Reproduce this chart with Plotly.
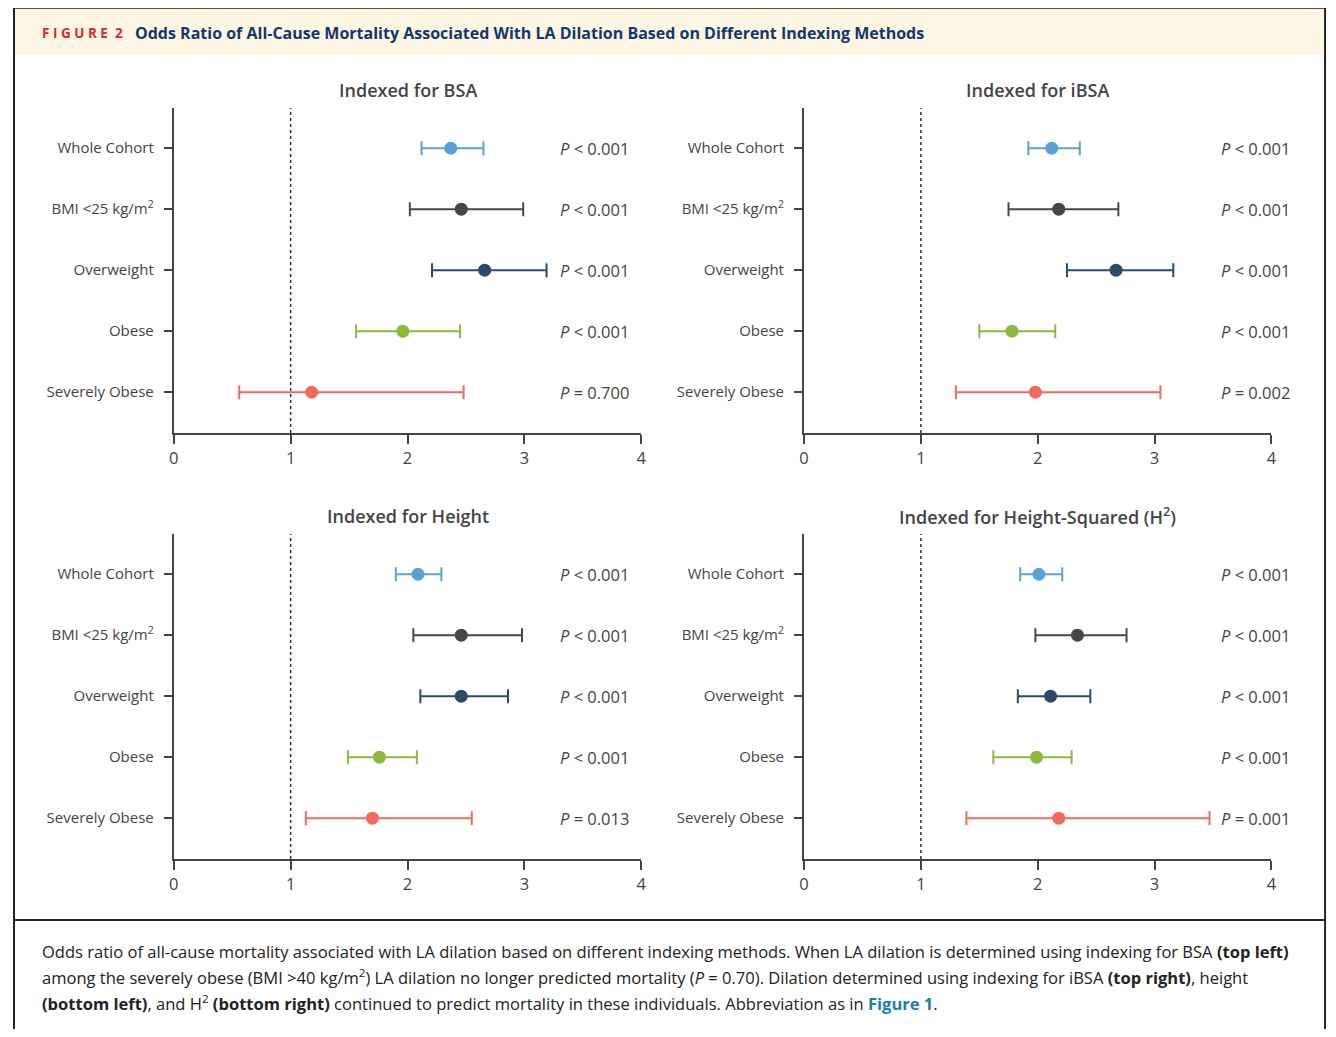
import plotly.graph_objects as go

# page is 1336x1037; browser body margin is 8px, so figure is drawn in the remaining area
PAGE_W, PAGE_H = 1336, 1037
OFF = 8
W, H = PAGE_W - OFF, PAGE_H - 2 * OFF

# ---------------- data ----------------
groups = ["Whole Cohort", "BMI &lt;25 kg/m<sup>2</sup>", "Overweight", "Obese", "Severely Obese"]
group_colors = ["#5BA1D5", "#474747", "#2D4A6A", "#8BBA3D", "#F06B59"]

panel_titles = ["Indexed for BSA", "Indexed for iBSA", "Indexed for Height",
                "Indexed for Height-Squared (H<sup>2</sup>)"]

# odds ratios, lower CI, upper CI per panel (order of groups)
bsa_or = [2.37, 2.46, 2.66, 1.96, 1.18]
bsa_lo = [2.12, 2.02, 2.21, 1.56, 0.56]
bsa_hi = [2.65, 2.99, 3.19, 2.45, 2.48]
bsa_p = ["<i>P</i> &lt; 0.001", "<i>P</i> &lt; 0.001", "<i>P</i> &lt; 0.001", "<i>P</i> &lt; 0.001", "<i>P</i> = 0.700"]

ibsa_or = [2.12, 2.18, 2.67, 1.78, 1.98]
ibsa_lo = [1.92, 1.75, 2.25, 1.50, 1.30]
ibsa_hi = [2.36, 2.69, 3.16, 2.15, 3.05]
ibsa_p = ["<i>P</i> &lt; 0.001", "<i>P</i> &lt; 0.001", "<i>P</i> &lt; 0.001", "<i>P</i> &lt; 0.001", "<i>P</i> = 0.002"]

height_or = [2.09, 2.46, 2.46, 1.76, 1.70]
height_lo = [1.90, 2.05, 2.11, 1.49, 1.13]
height_hi = [2.29, 2.98, 2.86, 2.08, 2.55]
height_p = ["<i>P</i> &lt; 0.001", "<i>P</i> &lt; 0.001", "<i>P</i> &lt; 0.001", "<i>P</i> &lt; 0.001", "<i>P</i> = 0.013"]

h2_or = [2.01, 2.34, 2.11, 1.99, 2.18]
h2_lo = [1.85, 1.98, 1.83, 1.62, 1.39]
h2_hi = [2.21, 2.76, 2.45, 2.29, 3.47]
h2_p = ["<i>P</i> &lt; 0.001", "<i>P</i> &lt; 0.001", "<i>P</i> &lt; 0.001", "<i>P</i> &lt; 0.001", "<i>P</i> = 0.001"]

x_ticks = [0, 1, 2, 3, 4]

panels = [
    (bsa_or, bsa_lo, bsa_hi, bsa_p),
    (ibsa_or, ibsa_lo, ibsa_hi, ibsa_p),
    (height_or, height_lo, height_hi, height_p),
    (h2_or, h2_lo, h2_hi, h2_p),
]

# ---------------- layout geometry (page pixels -> paper) ----------------
def px_x(p):
    return (p - OFF) / W

def px_y(p):
    return 1 - (p - OFF) / H

x_doms = [(170, 641), (805, 1276), (170, 641), (805, 1276)]
y_doms = [(108, 433), (108, 433), (534, 859), (534, 859)]
title_y = [90, 90, 516, 516]
p_x = [557, 1223, 557, 1223]

AX = "#444444"
FONT = "Open Sans"

fig = go.Figure()
layout = dict(
    width=W, height=H,
    margin=dict(l=0, r=0, t=0, b=0),
    paper_bgcolor="white", plot_bgcolor="white",
    showlegend=False,
    font=dict(family=FONT, color="#333333"),
)
annotations = []
shapes = []

n = len(groups)
yidx = list(range(n))

for k, (vals, lo, hi, pv) in enumerate(panels):
    xa = "x" if k == 0 else f"x{k+1}"
    ya = "y" if k == 0 else f"y{k+1}"
    xkey = "xaxis" if k == 0 else f"xaxis{k+1}"
    ykey = "yaxis" if k == 0 else f"yaxis{k+1}"
    for i in range(n):
        fig.add_trace(go.Scatter(
            x=[vals[i]], y=[yidx[i]], xaxis=xa, yaxis=ya,
            mode="markers",
            marker=dict(size=13, color=group_colors[i]),
            error_x=dict(type="data", symmetric=False,
                         array=[hi[i] - vals[i]], arrayminus=[vals[i] - lo[i]],
                         color=group_colors[i], thickness=2, width=7),
            hoverinfo="skip",
        ))
        annotations.append(dict(
            x=px_x(p_x[k]), y=yidx[i], xref="paper", yref=ya,
            text=pv[i], showarrow=False, xanchor="left", yanchor="middle",
            font=dict(size=16.5, color="#444444", family=FONT),
        ))
    x0, x1 = x_doms[k]
    yt, yb = y_doms[k]
    layout[xkey] = dict(
        domain=[px_x(x0), px_x(x1)], range=[0, 4], anchor=ya,
        tickvals=x_ticks, ticktext=[str(t) for t in x_ticks],
        ticks="outside", ticklen=9, tickwidth=2, tickcolor=AX,
        showline=True, linecolor=AX, linewidth=2,
        showgrid=False, zeroline=False,
        tickfont=dict(size=16.5, color="#444444", family=FONT),
        fixedrange=True,
    )
    layout[ykey] = dict(
        domain=[px_y(yb), px_y(yt)], range=[4.67, -0.66], anchor=xa,
        tickvals=yidx, ticktext=groups,
        ticks="outside", ticklen=8, tickwidth=2, tickcolor=AX,
        ticklabelstandoff=7,
        showline=True, linecolor=AX, linewidth=2,
        showgrid=False, zeroline=False,
        tickfont=dict(size=15, color="#444444", family=FONT),
        fixedrange=True,
    )
    # reference line at OR = 1
    shapes.append(dict(type="line", xref=xa, yref=f"{ya} domain",
                       x0=1, x1=1, y0=0, y1=1,
                       line=dict(color="#333333", width=1.5, dash="dot")))
    annotations.append(dict(
        x=px_x((x0 + x1) / 2), y=px_y(title_y[k]), xref="paper", yref="paper",
        text=panel_titles[k], showarrow=False, xanchor="center", yanchor="middle",
        font=dict(size=18, color="#444444", family=FONT, weight=600),
    ))

# frame / header / caption
shapes.append(dict(type="rect", xref="paper", yref="paper",
                   x0=px_x(9), x1=px_x(1330), y0=px_y(55), y1=px_y(8),
                   fillcolor="#FDF6E5", line=dict(width=0), layer="below"))
shapes.append(dict(type="line", xref="paper", yref="paper",
                   x0=px_x(9), x1=px_x(1330), y0=px_y(8), y1=px_y(8),
                   line=dict(color="#555555", width=2)))
shapes.append(dict(type="line", xref="paper", yref="paper",
                   x0=px_x(9), x1=px_x(9), y0=px_y(8), y1=0,
                   line=dict(color="#222222", width=2)))
shapes.append(dict(type="line", xref="paper", yref="paper",
                   x0=px_x(1330), x1=px_x(1330), y0=px_y(8), y1=0,
                   line=dict(color="#222222", width=2)))
shapes.append(dict(type="line", xref="paper", yref="paper",
                   x0=px_x(9), x1=px_x(1330), y0=px_y(920), y1=px_y(920),
                   line=dict(color="#222222", width=2)))

annotations.append(dict(
    x=px_x(35), y=px_y(33), xref="paper", yref="paper", xanchor="left", yanchor="middle",
    text="<b>F I G U R E  2</b>", showarrow=False,
    font=dict(size=13.5, color="#E0262E", family=FONT),
))
annotations.append(dict(
    x=px_x(129), y=px_y(33), xref="paper", yref="paper", xanchor="left", yanchor="middle",
    text="<b>Odds Ratio of All-Cause Mortality Associated With LA Dilation Based on Different Indexing Methods</b>",
    showarrow=False, font=dict(size=16, color="#13376B", family=FONT),
))

caption_lines = [
    "Odds ratio of all-cause mortality associated with LA dilation based on different indexing methods. When LA dilation is determined using indexing for BSA <b>(top left)</b>",
    "among the severely obese (BMI &gt;40 kg/m<sup>2</sup>) LA dilation no longer predicted mortality (<i>P</i> = 0.70). Dilation determined using indexing for iBSA <b>(top right)</b>, height",
    "<b>(bottom left)</b>, and H<sup>2</sup> <b>(bottom right)</b> continued to predict mortality in these individuals. Abbreviation as in <b><span style='color:#1A7DBA'>Figure 1</span></b>.",
]
caption_y = [951, 977, 1003]
for line, yy in zip(caption_lines, caption_y):
    annotations.append(dict(
        x=px_x(35), y=px_y(yy), xref="paper", yref="paper", xanchor="left", yanchor="middle",
        text=line, showarrow=False, font=dict(size=16.55, color="#222222", family=FONT),
    ))

layout["annotations"] = annotations
layout["shapes"] = shapes
fig.update_layout(**layout)
fig.write_html("out.html")
